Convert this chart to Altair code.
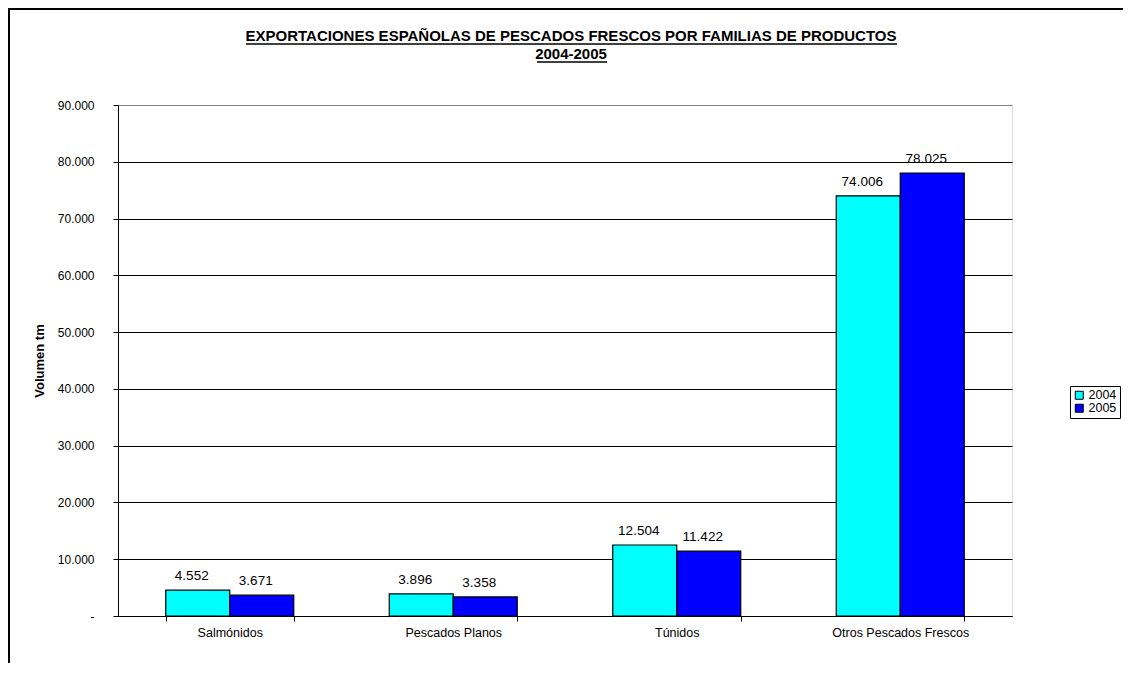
import altair as alt
import pandas as pd

categorias = ["Salmónidos", "Pescados Planos", "Túnidos", "Otros Pescados Frescos"]
anios = ["2004", "2005"]
valores_2004 = [4552, 3896, 12504, 74006]
valores_2005 = [3671, 3358, 11422, 78025]
y_ticks = [0, 10000, 20000, 30000, 40000, 50000, 60000, 70000, 80000, 90000]
colores = ["#00FFFF", "#0000FF"]
titulo = ["EXPORTACIONES ESPAÑOLAS DE PESCADOS FRESCOS POR FAMILIAS DE PRODUCTOS", "2004-2005"]

FONT = "Liberation Sans"

rows = []
for anio, vals in zip(anios, [valores_2004, valores_2005]):
    for c, v in zip(categorias, vals):
        rows.append({"familia": c, "anio": anio, "valor": v,
                     "etiqueta": f"{v:,}".replace(",", ".")})
df = pd.DataFrame(rows)

x_enc = alt.X("familia:N", sort=categorias,
              scale=alt.Scale(paddingInner=0.4273, paddingOuter=0.21365),
              axis=alt.Axis(title=None, labelAngle=0, tickBand="extent", tickSize=5,
                            labelPadding=5, labelFontSize=12.5, labelFont=FONT,
                            labelColor="black", domainColor="black", tickColor="black",
                            grid=False))
xo_enc = alt.XOffset("anio:N", sort=anios, scale=alt.Scale(paddingInner=0, paddingOuter=0))
y_enc = alt.Y("valor:Q", scale=alt.Scale(domain=[0, 90000], nice=False),
              axis=alt.Axis(title="Volumen tm", values=y_ticks, tickSize=5, labelPadding=19,
                            labelFontSize=12, labelFont=FONT, labelColor="black",
                            labelExpr="datum.value == 0 ? '-\u00a0' : replace(format(datum.value, ','), ',', '.')",
                            titleFont=FONT, titleFontSize=13, titleFontWeight="bold",
                            titleColor="black", titlePadding=11,
                            domainColor="black", tickColor="black",
                            grid=True,
                            gridColor={"condition": {"test": "datum.value == 90000", "value": "#808080"},
                                       "value": "black"},
                            gridWidth=1))

base = alt.Chart(df)

bars = base.mark_bar(stroke="black", strokeWidth=1.2).encode(
    x=x_enc, xOffset=xo_enc, y=y_enc,
    color=alt.Color("anio:N", sort=anios,
                    scale=alt.Scale(domain=anios, range=colores),
                    legend=alt.Legend(title=None, orient="none", legendX=952, legendY=281,
                                      symbolType="square", symbolSize=64,
                                      symbolStrokeColor="black", symbolStrokeWidth=1,
                                      symbolOpacity=1,
                                      labelFont=FONT, labelFontSize=12.5, labelColor="black",
                                      labelOffset=3, rowPadding=-1, padding=3,
                                      strokeColor="black", fillColor="white")),
)

labels = base.mark_text(dy=-10, dx=-6, baseline="alphabetic", fontSize=13.5, font=FONT,
                        color="black").encode(
    x=x_enc, xOffset=xo_enc, y=y_enc, text="etiqueta:N")

one = alt.Chart(pd.DataFrame({"k": [0]}))
border_left = one.mark_rule(color="black", strokeWidth=2).encode(
    x=alt.value(-109), y=alt.value(-97), y2=alt.value(600))
border_top = one.mark_rule(color="black", strokeWidth=2).encode(
    x=alt.value(-110), x2=alt.value(1005), y=alt.value(-96))

titulo_df = pd.DataFrame({"linea": titulo, "orden": [0, 1]})
t1 = alt.Chart(titulo_df).transform_filter("datum.orden == 0").mark_text(
    font=FONT, fontSize=15, fontWeight="bold", color="black",
    align="center", baseline="alphabetic").encode(
    x=alt.value(453), y=alt.value(-64), text="linea:N")
t2 = alt.Chart(titulo_df).transform_filter("datum.orden == 1").mark_text(
    font=FONT, fontSize=15, fontWeight="bold", color="black",
    align="center", baseline="alphabetic").encode(
    x=alt.value(453), y=alt.value(-46), text="linea:N")
underline1 = one.mark_rule(color="black", strokeWidth=1.5).encode(
    x=alt.value(128), x2=alt.value(779), y=alt.value(-61))
underline2 = one.mark_rule(color="black", strokeWidth=1.5).encode(
    x=alt.value(419), x2=alt.value(489), y=alt.value(-43))

chart = alt.layer(border_left, border_top, bars, labels, t1, t2, underline1, underline2).properties(
    width=894, height=511,
    padding={"left": 110, "top": 97, "right": 111, "bottom": 47},
    autosize=alt.AutoSizeParams(type="none"),
).configure_view(stroke="#808080", strokeWidth=1.5).configure(background="white")

chart.save("out.html", embed_options={"renderer": "svg", "actions": False})
